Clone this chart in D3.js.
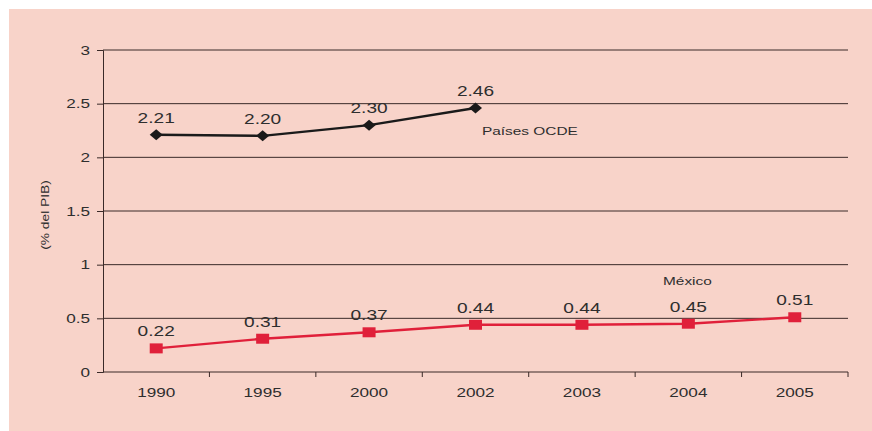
<!DOCTYPE html>
<html>
<head>
<meta charset="utf-8">
<script src="https://cdn.jsdelivr.net/npm/d3@7/dist/d3.min.js"></script>
<style>
  html, body { margin: 0; padding: 0; background: #ffffff; }
  svg { display: block; font-family: "Liberation Sans", Arial, sans-serif; }
</style>
</head>
<body>
<svg id="chart" width="872" height="431"></svg>
<script>
// Gasto en investigación y desarrollo (% del PIB)
const years = ["1990", "1995", "2000", "2002", "2003", "2004", "2005"];
const ocdeValues = [2.21, 2.20, 2.30, 2.46, null, null, null];
const mexicoValues = [0.22, 0.31, 0.37, 0.44, 0.44, 0.45, 0.51];
const yTicks = [0, 0.5, 1, 1.5, 2, 2.5, 3];

const svg = d3.select("#chart");
const W = 872, H = 431;
const margin = { left: 103, right: 24, top: 50, bottom: 59 };
const ink = "#2e2e2e";
const axisColor = "#3a2a28";
const stretch = 1.32; // horizontally widened lettering

// text drawn at (px, py), widened horizontally
function wideText(parent, px, py, str, size, anchor, sx) {
  return parent.append("g")
    .attr("transform", `translate(${px},${py}) scale(${sx || stretch},1)`)
    .append("text")
    .attr("text-anchor", anchor || "middle")
    .attr("fill", ink)
    .style("font-size", size + "px")
    .text(str);
}

// panel background
svg.append("rect").attr("x", 9).attr("y", 9).attr("width", W - 9).attr("height", H - 9)
  .attr("fill", "#f8d3c9");

const x = d3.scaleBand().domain(years).range([margin.left, W - margin.right]);
const y = d3.scaleLinear().domain([0, 3]).range([H - margin.bottom, margin.top]);

const g = svg.append("g");

// horizontal gridlines
g.selectAll("line.grid").data(yTicks.filter(d => d > 0)).enter().append("line")
  .attr("class", "grid")
  .attr("x1", margin.left).attr("x2", W - margin.right)
  .attr("y1", d => y(d)).attr("y2", d => y(d))
  .attr("stroke", axisColor).attr("stroke-width", 1);

// y axis line and ticks
const yAxis = g.append("g").attr("transform", `translate(${margin.left},0)`)
  .call(d3.axisLeft(y).tickValues(yTicks).tickFormat("").tickSize(6));
yAxis.select(".domain").attr("stroke", axisColor);
yAxis.selectAll(".tick line").attr("stroke", axisColor);
const fmt = d3.format("~g");
yTicks.forEach(t => wideText(g, margin.left - 13, y(t) + 4.5, fmt(t), 13, "end"));

// x axis: ticks between the categories
const xAxisG = g.append("g").attr("transform", `translate(0,${y(0)})`);
xAxisG.append("line").attr("x1", margin.left).attr("x2", W - margin.right)
  .attr("stroke", axisColor).attr("stroke-width", 1.2);
const boundaries = years.map(d => x(d) + x.bandwidth());
xAxisG.selectAll("line.tk").data(boundaries).enter().append("line")
  .attr("class", "tk").attr("x1", d => d).attr("x2", d => d)
  .attr("y1", 0).attr("y2", 5).attr("stroke", axisColor);
years.forEach(d => wideText(xAxisG, x(d) + x.bandwidth() / 2, 25, d, 13));

// y axis title
svg.append("g")
  .attr("transform", `translate(49,${(y(0) + y(3)) / 2 + 4}) rotate(-90) scale(1.25,1)`)
  .append("text")
  .attr("text-anchor", "middle").attr("fill", ink)
  .style("font-size", "11px")
  .text("(% del PIB)");

const cx = d => x(d) + x.bandwidth() / 2;
const line = d3.line().x(d => cx(d.k)).y(d => y(d.v));

// marker shapes: wide diamond and wide square
const diamond = (hw, hh) => `M${-hw},0L0,${-hh}L${hw},0L0,${hh}Z`;
const rectShape = (hw, hh) => `M${-hw},${-hh}H${hw}V${hh}H${-hw}Z`;

function series(values, color, marker) {
  const data = years.map((k, i) => ({ k, v: values[i] })).filter(d => d.v != null);
  g.append("path").datum(data).attr("d", line)
    .attr("fill", "none").attr("stroke", color).attr("stroke-width", 2.4);
  g.selectAll(null).data(data).enter().append("path")
    .attr("d", marker)
    .attr("transform", d => `translate(${cx(d.k)},${y(d.v)})`)
    .attr("fill", color);
  data.forEach(d => wideText(g, cx(d.k), y(d.v) - 12, d.v.toFixed(2), 14.5));
}

series(ocdeValues, "#1a1a1a", diamond(6.5, 5.5));
series(mexicoValues, "#e0203a", rectShape(6.5, 5));

// series names
wideText(svg, 482, 135, "Países OCDE", 11, "start", 1.4);
wideText(svg, 663, 285, "México", 11, "start", 1.4);
</script>
</body>
</html>
